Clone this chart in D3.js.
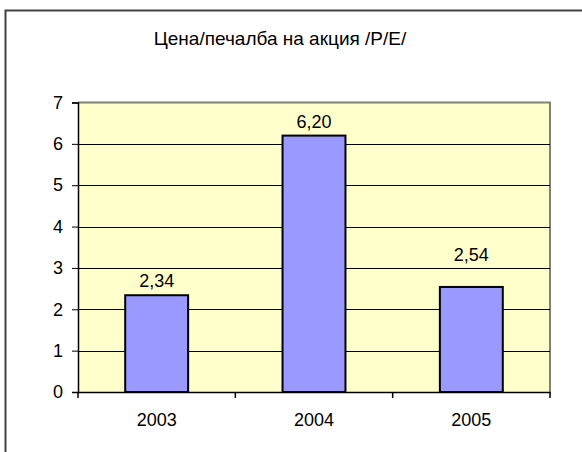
<!DOCTYPE html>
<html><head><meta charset="utf-8">
<script src="https://cdn.jsdelivr.net/npm/d3@7"></script>
<style>body{margin:0;background:#fff}svg{display:block}text{font-family:"Liberation Sans",Arial,sans-serif;fill:#000}</style>
</head><body><svg id="c" width="582" height="452"></svg>
<script>
const categories = ["2003", "2004", "2005"];
const values = [2.34, 6.20, 2.54];
const valueLabels = ["2,34", "6,20", "2,54"];
const yTicks = [0, 1, 2, 3, 4, 5, 6, 7];
const title = "Цена/печалба на акция /P/E/";

const svg = d3.select("#c");
const m = {l: 78, r: 550, t: 102.5, b: 392};
const labelGap = [8, 8, 26];
const fs = 18;

// outer frame (extends past image right/bottom)
svg.append("rect").attr("x", 5.5).attr("y", 10.5).attr("width", 600).attr("height", 460)
  .attr("fill", "none").attr("stroke", "#404040").attr("stroke-width", 2);

const x = d3.scaleBand().domain(categories).range([m.l, m.r]).paddingInner(0.6).paddingOuter(0.3);
const xb = d3.scaleBand().domain(categories).range([m.l, m.r]);
const y = d3.scaleLinear().domain([0, 7]).range([m.b, m.t]);

svg.append("rect").attr("x", m.l).attr("y", m.t).attr("width", m.r - m.l).attr("height", m.b - m.t)
  .attr("fill", "#FFFFCC");
svg.append("path").attr("d", `M${m.l},${m.t}H${m.r}V${m.b}`).attr("fill", "none")
  .attr("stroke", "#808080").attr("stroke-width", 2);

svg.append("g").selectAll("line").data(yTicks.filter(d => d > 0 && d < 7)).join("line")
  .attr("x1", m.l).attr("x2", m.r).attr("y1", d => Math.round(y(d)) + 0.5).attr("y2", d => Math.round(y(d)) + 0.5)
  .attr("stroke", "#000").attr("stroke-width", 1);

svg.append("g").selectAll("rect").data(values).join("rect")
  .attr("x", (d, i) => x(categories[i])).attr("y", d => y(d))
  .attr("width", x.bandwidth()).attr("height", d => m.b - y(d))
  .attr("fill", "#9999FF").attr("stroke", "#000").attr("stroke-width", 2);

svg.append("g").selectAll("text").data(values).join("text")
  .attr("x", (d, i) => x(categories[i]) + x.bandwidth() / 2)
  .attr("y", (d, i) => y(d) - labelGap[i])
  .attr("text-anchor", "middle").attr("font-size", fs).text((d, i) => valueLabels[i]);

// y axis
const ya = d3.axisLeft(y).tickValues(yTicks).tickSize(6).tickPadding(9).tickFormat(d3.format("d"));
svg.append("g").attr("transform", `translate(${m.l},0)`).call(ya)
  .call(g => g.select(".domain").attr("stroke", "#000").attr("stroke-width", 1.5))
  .call(g => g.selectAll("line").attr("stroke", "#000"))
  .call(g => g.selectAll("text").attr("font-size", fs).attr("font-family", "Liberation Sans"));

// x axis
const xa = d3.axisBottom(xb).tickSize(0).tickPadding(21);
svg.append("g").attr("transform", `translate(0,${m.b})`).call(xa)
  .call(g => g.select(".domain").attr("stroke", "#000").attr("stroke-width", 1.5))
  .call(g => g.selectAll("text").attr("font-size", fs).attr("font-family", "Liberation Sans"));
svg.append("g").selectAll("line").data([...categories.map(c => xb(c)), m.r]).join("line")
  .attr("x1", d => d).attr("x2", d => d).attr("y1", m.b).attr("y2", m.b + 6).attr("stroke", "#000").attr("stroke-width", 1.5);

svg.append("text").attr("x", 280).attr("y", 45).attr("text-anchor", "middle").attr("font-size", 19).text(title);
</script></body></html>
